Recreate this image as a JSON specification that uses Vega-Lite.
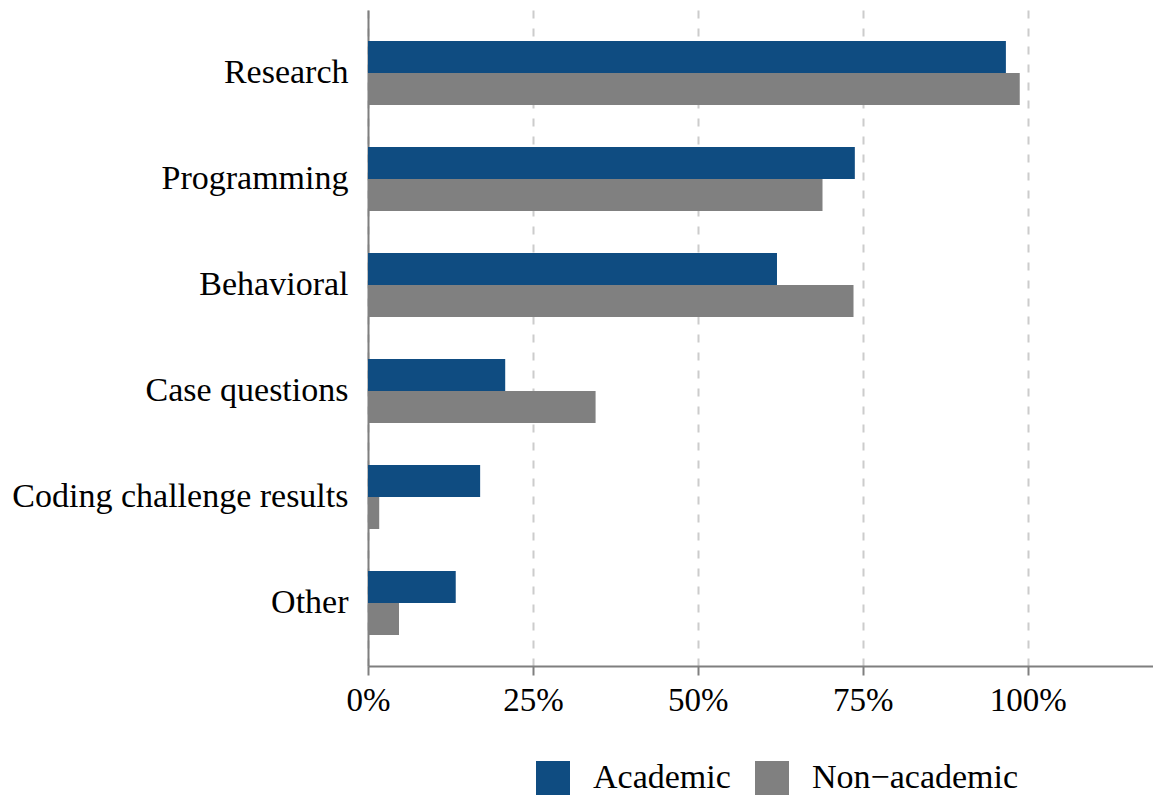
{
  "$schema": "https://vega.github.io/schema/vega-lite/v6.json",
  "width": 785,
  "height": 656,
  "autosize": {"type": "none"},
  "padding": {"left": 368, "top": 10, "right": 0, "bottom": 132},
  "config": {"view": {"stroke": null}, "font": "Liberation Serif"},
  "data": {
    "values": [
      {"category": "Research", "group": "Academic", "value": 0.967},
      {"category": "Research", "group": "Non−academic", "value": 0.988},
      {"category": "Programming", "group": "Academic", "value": 0.738},
      {"category": "Programming", "group": "Non−academic", "value": 0.689},
      {"category": "Behavioral", "group": "Academic", "value": 0.620},
      {"category": "Behavioral", "group": "Non−academic", "value": 0.736},
      {"category": "Case questions", "group": "Academic", "value": 0.208},
      {"category": "Case questions", "group": "Non−academic", "value": 0.345},
      {"category": "Coding challenge results", "group": "Academic", "value": 0.170},
      {"category": "Coding challenge results", "group": "Non−academic", "value": 0.017},
      {"category": "Other", "group": "Academic", "value": 0.133},
      {"category": "Other", "group": "Non−academic", "value": 0.047}
    ]
  },
  "mark": {"type": "bar"},
  "encoding": {
    "y": {
      "field": "category",
      "type": "nominal",
      "sort": ["Research", "Programming", "Behavioral", "Case questions", "Coding challenge results", "Other"],
      "scale": {"paddingInner": 0.396, "paddingOuter": 0.2925},
      "axis": {
        "title": null,
        "labelFontSize": 34,
        "labelColor": "black",
        "labelLimit": 500,
        "ticks": false,
        "labelPadding": 20,
        "domainColor": "#7f7f7f",
        "domainWidth": 2,
        "grid": false
      }
    },
    "yOffset": {
      "field": "group",
      "type": "nominal",
      "sort": ["Academic", "Non−academic"],
      "scale": {"paddingInner": 0, "paddingOuter": 0}
    },
    "x": {
      "field": "value",
      "type": "quantitative",
      "scale": {"domain": [0, 1.19], "nice": false},
      "axis": {
        "values": [0, 0.25, 0.5, 0.75, 1],
        "format": ".0%",
        "title": null,
        "labelFontSize": 33,
        "labelColor": "black",
        "labelFlush": false,
        "grid": true,
        "gridDash": [8, 10],
        "gridColor": "#cccccc",
        "gridWidth": 2,
        "tickColor": "#7f7f7f",
        "tickWidth": 2,
        "tickSize": 9,
        "domainColor": "#7f7f7f",
        "domainWidth": 2,
        "labelPadding": 9
      }
    },
    "color": {
      "field": "group",
      "type": "nominal",
      "sort": ["Academic", "Non−academic"],
      "scale": {"domain": ["Academic", "Non−academic"], "range": ["#0f4c81", "#808080"]},
      "legend": {
        "title": null,
        "orient": "none",
        "direction": "horizontal",
        "legendX": 168,
        "legendY": 751,
        "symbolType": "square",
        "symbolSize": 1156,
        "symbolStrokeWidth": 0,
        "symbolOpacity": 1,
        "labelFontSize": 34,
        "labelColor": "black",
        "labelOffset": 23,
        "columnPadding": 24,
        "labelLimit": 400
      }
    }
  }
}
